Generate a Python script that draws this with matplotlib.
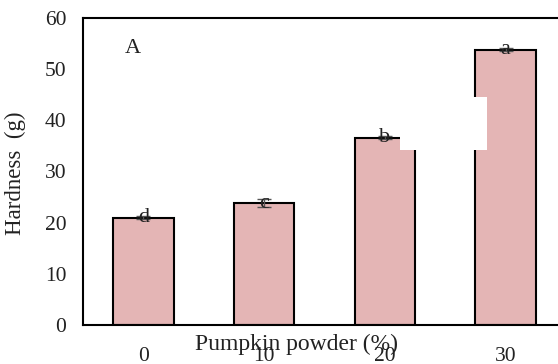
import matplotlib
matplotlib.use('Agg')
from matplotlib import pyplot as plt
from matplotlib.patches import Rectangle

# hardness of samples by pumpkin powder level
levels = ['0', '10', '20', '30']
hardness = [21.0, 23.8, 36.6, 53.8]
hardness_err = [0.3, 0.8, 0.3, 0.3]
groups = ['d', 'c', 'b', 'a']

plt.rcParams['font.family'] = ['Liberation Serif', 'DejaVu Serif']

fig = plt.figure(figsize=(5.58, 3.64), dpi=100)
W, H = 558, 364
# axes runs past the right edge of the canvas
ax = fig.add_axes([83 / W, 1 - 325 / H, (566 - 83) / W, (325 - 18) / H])

xs = list(range(len(levels)))
ax.bar(xs, hardness, width=0.5, color='#e4b5b5', edgecolor='black', linewidth=1.5,
       yerr=hardness_err, error_kw=dict(ecolor='#555555', elinewidth=1, capsize=5, capthick=1))

for x, v, g in zip(xs, hardness, groups):
    ax.text(x, v, g, ha='center', va='center', fontsize=16, color='#222222')

ax.set_xlim(-0.5, 3.5)
ax.set_ylim(0, 60)
ax.set_yticks([0, 10, 20, 30, 40, 50, 60])
ax.set_xticks(xs)
ax.set_xticklabels(levels)
ax.tick_params(length=0, labelsize=15.5, colors='#222222')
ax.tick_params(axis='x', pad=15.5)
ax.tick_params(axis='y', pad=12)
for s in ax.spines.values():
    s.set_linewidth(1.5)

ax.text(-0.09, 54.0, 'A', fontsize=16, ha='center', va='center', color='#222222')
ax.set_xlabel('Pumpkin powder (%)', fontsize=17, color='#222222')
ax.xaxis.set_label_coords(0.442, -0.028)
ax.set_ylabel('Hardness  (g)', fontsize=16.5, color='#222222')
ax.yaxis.set_label_coords(-0.118, 0.495)

# white patch over the upper middle of the plot
fig.patches.append(Rectangle((400 / W, 1 - 150 / H), 87 / W, 53 / H,
                             transform=fig.transFigure, facecolor='white',
                             edgecolor='none', zorder=10))

fig.savefig('out.png', dpi=100)
